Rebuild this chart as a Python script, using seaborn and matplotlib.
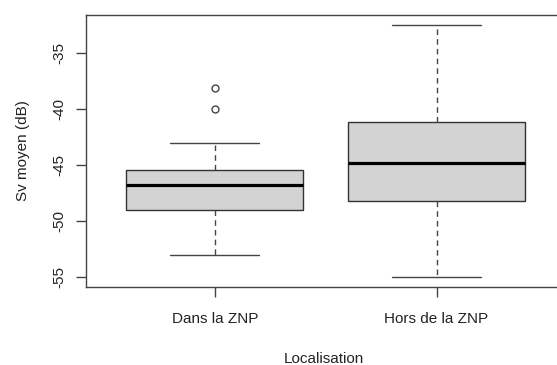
import pandas as pd
import matplotlib
matplotlib.use("Agg")
import matplotlib.pyplot as plt
import seaborn as sns

# Sv values per location (estimated so the box stats match the picture)
dans_znp = [-53.0, -51.5, -50.2, -49.0, -48.3, -47.5, -46.8,
            -46.2, -45.8, -45.45, -43.0, -40.0, -38.1]
hors_znp = [-55.0, -51.0, -48.25, -46.5, -44.85, -43.0, -41.2, -37.0, -32.5]
categories = ["Dans la ZNP", "Hors de la ZNP"]
y_ticks = [-55, -50, -45, -40, -35]

df = pd.DataFrame({
    "Localisation": [categories[0]] * len(dans_znp) + [categories[1]] * len(hors_znp),
    "Sv": dans_znp + hors_znp,
})

sns.set_style("white")
plt.rcParams["font.family"] = ["Liberation Sans", "DejaVu Sans"]

line_col = "#444444"
text_col = "#222222"

fig = plt.figure(figsize=(5.57, 3.65), dpi=100)
ax = fig.add_axes([86 / 557, 78 / 365, (562 - 86) / 557, (287 - 15) / 365])

sns.boxplot(
    data=df, x="Localisation", y="Sv", order=categories,
    color="#D3D3D3", saturation=1, width=0.8, linecolor=line_col, linewidth=1,
    whiskerprops=dict(linestyle=(0, (4, 3)), color=line_col),
    capprops=dict(color=line_col),
    medianprops=dict(color="black", linewidth=2.3),
    boxprops=dict(edgecolor="#333333"),
    flierprops=dict(marker="o", markerfacecolor="none", markeredgecolor=line_col,
                    markersize=5, markeredgewidth=1),
    ax=ax,
)

ax.set_xlim(-0.581, 1.566)
ax.set_ylim(-55.9, -31.6)
ax.set_yticks(y_ticks)
ax.set_yticklabels([str(t) for t in y_ticks], rotation=90, va="center")

for side in ["top", "bottom", "left", "right"]:
    ax.spines[side].set_color(line_col)
    ax.spines[side].set_linewidth(1)

ax.tick_params(axis="both", direction="out", length=7, width=1, color=line_col,
               labelsize=11, labelcolor=text_col)
ax.tick_params(axis="x", pad=11)
ax.tick_params(axis="y", pad=7)
ax.tick_params(left=True, bottom=True)

ax.set_xlabel("Localisation", fontsize=11, color=text_col, labelpad=19)
ax.set_ylabel("Sv moyen (dB)", fontsize=11, color=text_col, labelpad=16)

fig.savefig("out.png", dpi=100)
